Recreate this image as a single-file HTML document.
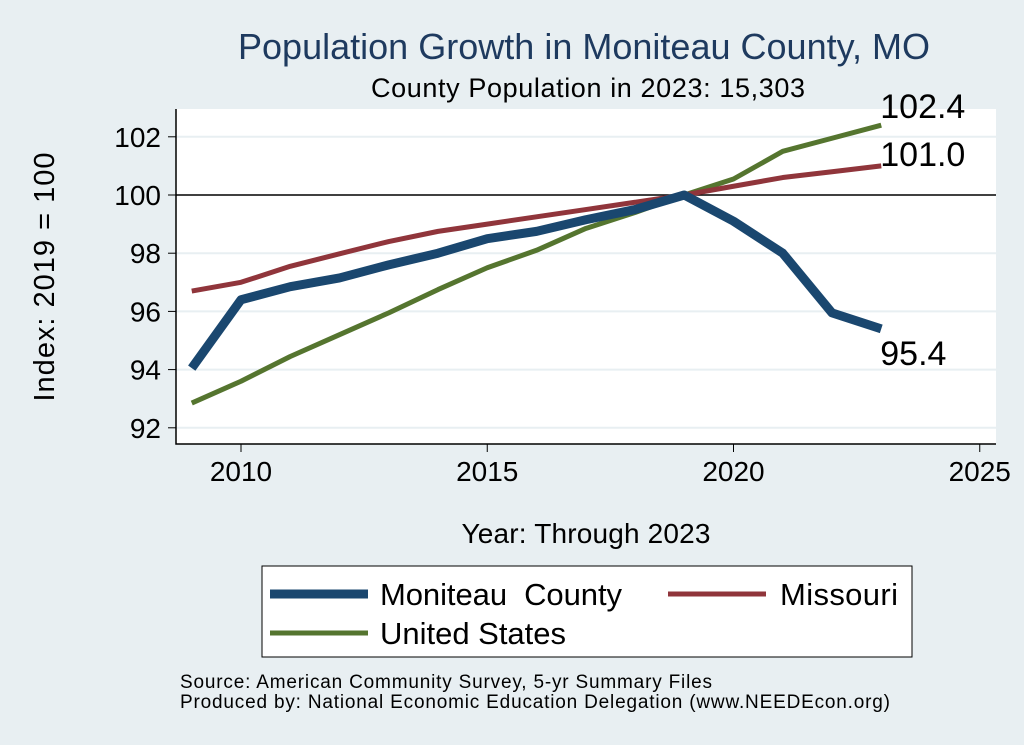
<!DOCTYPE html>
<html><head><meta charset="utf-8"><style>
body{margin:0;background:#e8eff2;}
svg{display:block;font-family:"Liberation Sans",Arial,sans-serif;}
</style></head><body>
<svg id="chart" width="1024" height="745" viewBox="0 0 1024 745">
<rect width="1024" height="745" fill="#e8eff2"/>
<rect x="176" y="109" width="820" height="335" fill="#fff"/>
<text x="584" y="59" font-size="36" fill="#1e3a5f" text-anchor="middle" textLength="692">Population Growth in Moniteau County, MO</text>
<text x="588" y="97" font-size="27" fill="#000" text-anchor="middle" textLength="434">County Population in 2023: 15,303</text>
<g id="grid"></g>
<g id="axes"></g>
<g id="series"></g>
<text transform="translate(54,277) rotate(-90)" font-size="29" text-anchor="middle" textLength="249">Index: 2019 = 100</text>
<text x="586" y="543" font-size="28" text-anchor="middle" textLength="249">Year: Through 2023</text>
<g>
<rect x="262" y="566" width="650" height="91" fill="#fff" stroke="#000" stroke-width="1"/>
<line x1="270" y1="594" x2="368" y2="594" stroke="#1a476f" stroke-width="9"/>
<text x="380" y="605" font-size="31" textLength="242">Moniteau&#160; County</text>
<line x1="668" y1="594" x2="766" y2="594" stroke="#90353b" stroke-width="5"/>
<text x="780" y="605" font-size="31" textLength="118">Missouri</text>
<line x1="270" y1="633" x2="368" y2="633" stroke="#55752f" stroke-width="5"/>
<text x="380" y="644" font-size="31" textLength="186">United States</text>
</g>
<text x="180" y="688" font-size="19" textLength="532">Source: American Community Survey, 5-yr Summary Files</text>
<text x="180" y="708" font-size="19" textLength="710">Produced by: National Economic Education Delegation (www.NEEDEcon.org)</text>
</svg>
<script>
const years=[2009,2010,2011,2012,2013,2014,2015,2016,2017,2018,2019,2020,2021,2022,2023];
const moniteau=[94.05,96.4,96.85,97.15,97.6,98.0,98.5,98.75,99.15,99.5,100,99.1,98.0,95.95,95.4];
const missouri=[96.7,97.0,97.55,97.98,98.4,98.75,99.0,99.25,99.5,99.75,100,100.3,100.6,100.8,101.0];
const usa=[92.85,93.6,94.45,95.2,95.95,96.75,97.5,98.1,98.85,99.4,100,100.55,101.5,101.95,102.4];
const yTicks=[92,94,96,98,100,102];
const xTicks=[2010,2015,2020,2025];
const NS='http://www.w3.org/2000/svg';
const xs=v=>241+(v-2010)*49.25;
const ys=v=>195-(v-100)*29.1;
function mk(p,t,a){const e=document.createElementNS(NS,t);for(const k in a)e.setAttribute(k,a[k]);p.appendChild(e);return e;}
const grid=document.getElementById('grid'),axes=document.getElementById('axes'),ser=document.getElementById('series');
yTicks.forEach(v=>{
 if(v!==100){const g=mk(grid,'line',{x1:176,x2:996,y1:ys(v),y2:ys(v),stroke:'#e8eff2','stroke-width':2});
 
 }
 const t=mk(axes,'line',{x1:168,x2:176,y1:ys(v),y2:ys(v),stroke:'#000'});
 
 
 const l=mk(axes,'text',{x:161,y:ys(v)+10,'font-size':28,'text-anchor':'end'});l.textContent=v;
 
 
});
const ref=mk(grid,'line',{x1:176,x2:996,y1:ys(100),y2:ys(100),stroke:'#000','stroke-width':1.5});


xTicks.forEach(v=>{
 const t=mk(axes,'line',{x1:xs(v),x2:xs(v),y1:444,y2:452,stroke:'#000'});
 
 
 const l=mk(axes,'text',{x:xs(v),y:481,'font-size':28,'text-anchor':'middle'});l.textContent=v;
 
 
});
const ax=mk(axes,'path',{d:'M176,109 V444 H996',fill:'none',stroke:'#000','stroke-width':1.5});


function line(vals,col,w,name){
 const p=mk(ser,'polyline',{points:vals.map((v,i)=>xs(years[i])+','+ys(v)).join(' '),fill:'none',stroke:col,'stroke-width':w,'stroke-linejoin':'round'});
 
 
}
line(usa,'#55752f',5,'line-united-states');
line(missouri,'#90353b',5,'line-missouri');
line(moniteau,'#1a476f',9,'line-moniteau-county');
const n=years.length-1;
[[usa,-7,'label-us-end'],[missouri,0,'label-missouri-end'],[moniteau,36,'label-moniteau-end']].forEach(([s,dy,nm])=>{
 const t=mk(ser,'text',{x:xs(years[n])-1,y:ys(s[n])+dy,'font-size':34});t.textContent=s[n].toFixed(1);
 
 
});
</script>
</body></html>
